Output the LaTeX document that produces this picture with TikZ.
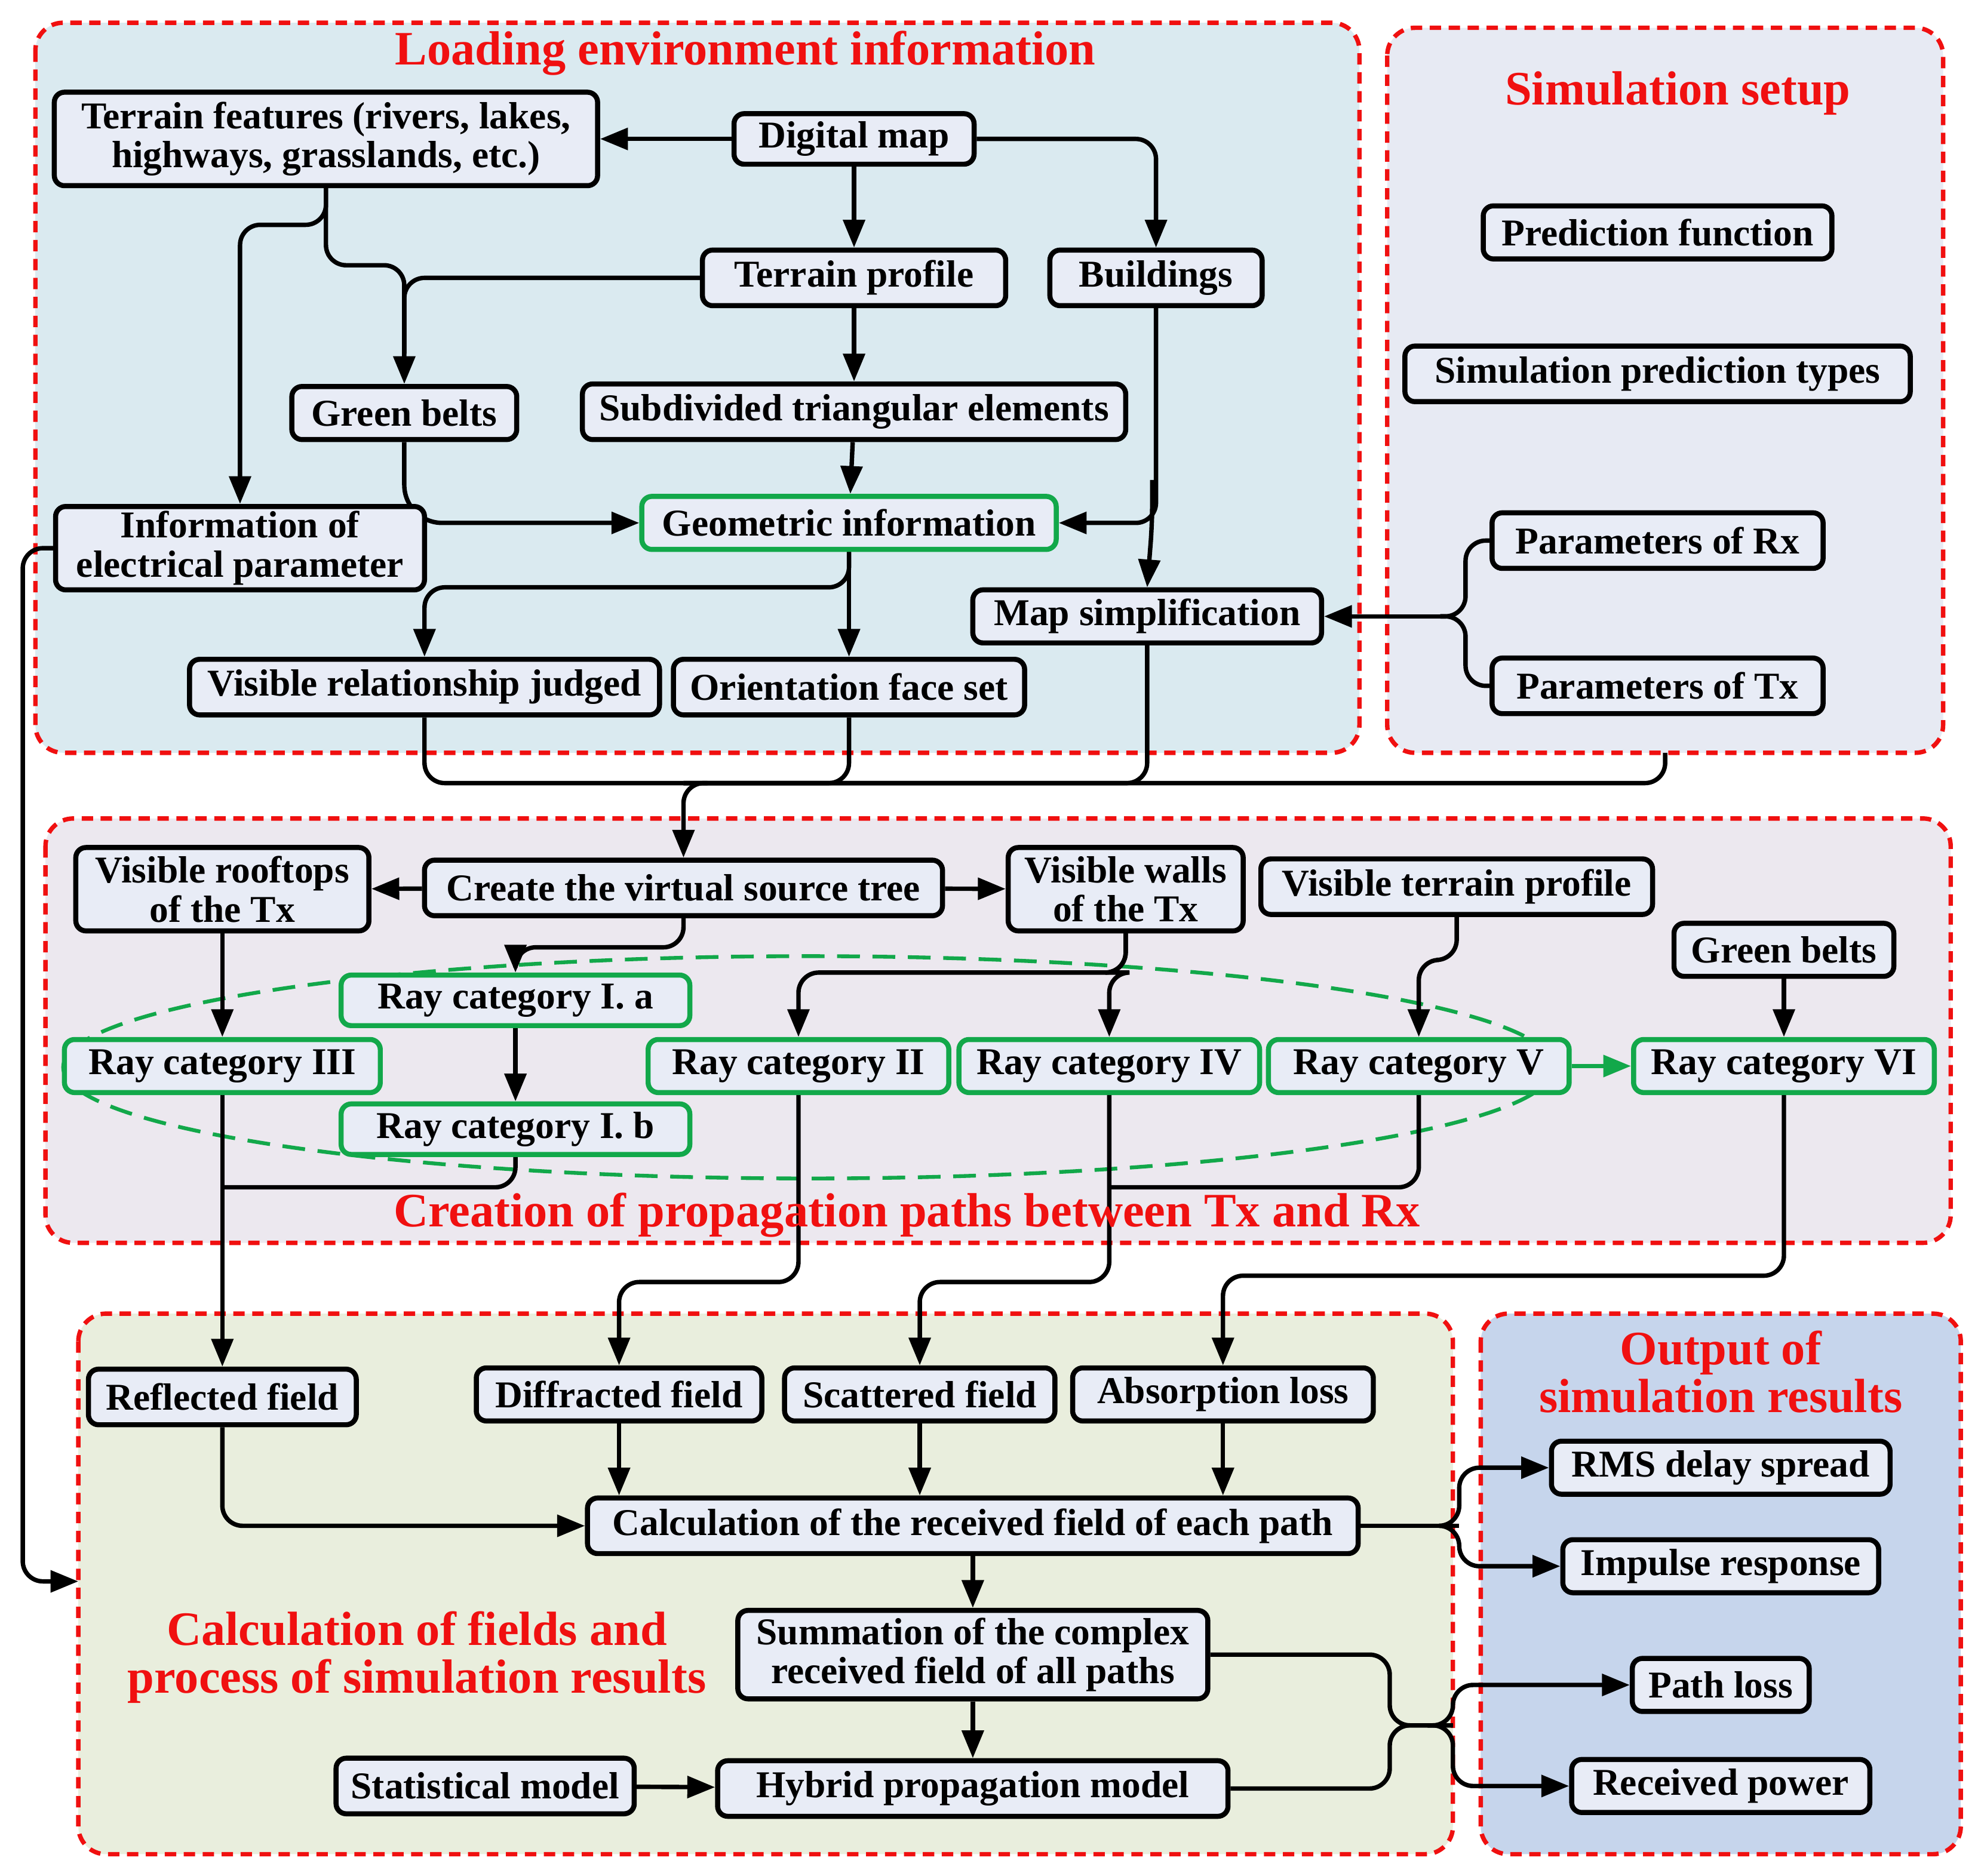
\documentclass[tikz,border=0pt]{standalone}
\usepackage{fontspec}
\setmainfont{Liberation Serif}
\usetikzlibrary{arrows.meta}
\definecolor{nfill}{HTML}{E8ECF6}
\definecolor{gbox}{HTML}{12A84A}
\definecolor{redd}{HTML}{F01010}
\definecolor{fA}{HTML}{DAEAF0}
\definecolor{fB}{HTML}{E7EAF3}
\definecolor{fC}{HTML}{ECE8EF}
\definecolor{fD}{HTML}{E9EEDD}
\definecolor{fE}{HTML}{C6D5EC}
\pgfdeclarelayer{bg}\pgfdeclarelayer{edges}
\pgfsetlayers{bg,edges,main}
\begin{document}
\begin{tikzpicture}[x=1pt,y=-1pt,
 nd/.style={draw, line width=4pt, rounded corners=8pt, fill=nfill, align=center, inner sep=0pt,
   font=\bfseries\fontsize{30}{31}\selectfont},
 gn/.style={nd, draw=gbox},
 cont/.style={draw=redd, line width=3.5pt, dash pattern=on 9pt off 6pt, rounded corners=22pt},
 ttl/.style={text=redd, font=\bfseries\fontsize{38}{38}\selectfont, align=center},
 ar/.style={line width=3.5pt, rounded corners=16pt, -{Triangle[length=22pt,width=17pt]}},
 ln/.style={line width=3.5pt, rounded corners=16pt}]
\useasboundingbox (0,0) rectangle (1568,1485);
\begin{pgfonlayer}{bg}
\fill[fA, rounded corners=22pt] (28,18) rectangle (1076,596);
\draw[cont] (28,18) rectangle (1076,596);
\fill[fB, rounded corners=22pt] (1098,22) rectangle (1538,596);
\draw[cont] (1098,22) rectangle (1538,596);
\fill[fC, rounded corners=22pt] (36,648) rectangle (1544,984);
\draw[cont] (36,648) rectangle (1544,984);
\fill[fD, rounded corners=22pt] (62,1040) rectangle (1150,1468);
\draw[cont] (62,1040) rectangle (1150,1468);
\fill[fE, rounded corners=22pt] (1172,1040) rectangle (1552,1468);
\draw[cont] (1172,1040) rectangle (1552,1468);
\draw[gbox, line width=3pt, dash pattern=on 18pt off 10pt] (640,845) ellipse (590 and 88);
\end{pgfonlayer}
\node[ttl] (t1) at (590,42) {Loading environment information};
\node[ttl] (t2) at (1328,74) {Simulation setup};
\node[ttl] (t4) at (330,1312) {Calculation of fields and\\process of simulation results};
\node[ttl] (t5) at (1362,1086) {Output of\\simulation results};
% nodes
\node[nd, minimum width=430pt, minimum height=74pt] (terrain) at (258,110) {Terrain features (rivers, lakes,\\highways, grasslands, etc.)};
\node[nd, minimum width=190pt, minimum height=40pt] (digital) at (676,110) {Digital map};
\node[nd, minimum width=240pt, minimum height=44pt] (tprofile) at (676,220) {Terrain profile};
\node[nd, minimum width=168pt, minimum height=44pt] (build) at (915,220) {Buildings};
\node[nd, minimum width=178pt, minimum height=42pt] (green1) at (320,327) {Green belts};
\node[nd, minimum width=430pt, minimum height=44pt] (subdiv) at (676,326) {Subdivided triangular elements};
\node[gn, minimum width=328pt, minimum height=42pt] (geo) at (672,414) {Geometric information};
\node[nd, minimum width=292pt, minimum height=66pt] (info) at (190,434) {Information of\\electrical parameter};
\node[nd, minimum width=276pt, minimum height=42pt] (maps) at (908,488) {Map simplification};
\node[nd, minimum width=372pt, minimum height=44pt] (visrel) at (336,544) {Visible relationship judged};
\node[nd, minimum width=278pt, minimum height=44pt] (orient) at (672,544) {Orientation face set};
\node[nd, minimum width=276pt, minimum height=42pt] (pred) at (1312,184) {Prediction function};
\node[nd, minimum width=400pt, minimum height=44pt] (simt) at (1312,296) {Simulation prediction types};
\node[nd, minimum width=262pt, minimum height=44pt] (prx) at (1312,428) {Parameters of Rx};
\node[nd, minimum width=262pt, minimum height=44pt] (ptx) at (1312,543) {Parameters of Tx};
\node[nd, minimum width=232pt, minimum height=66pt] (roof) at (176,704) {Visible rooftops\\of the Tx};
\node[nd, minimum width=410pt, minimum height=44pt] (vst) at (541,703) {Create the virtual source tree};
\node[nd, minimum width=186pt, minimum height=66pt] (walls) at (891,704) {Visible walls\\of the Tx};
\node[nd, minimum width=310pt, minimum height=44pt] (vtp) at (1153,702) {Visible terrain profile};
\node[nd, minimum width=174pt, minimum height=42pt] (green2) at (1412,752) {Green belts};
\node[gn, minimum width=276pt, minimum height=40pt] (rIa) at (408,792) {Ray category I. a};
\node[gn, minimum width=250pt, minimum height=42pt] (rIII) at (176,844) {Ray category III};
\node[gn, minimum width=276pt, minimum height=40pt] (rIb) at (408,894) {Ray category I. b};
\node[gn, minimum width=238pt, minimum height=42pt] (rII) at (632,844) {Ray category II};
\node[gn, minimum width=238pt, minimum height=42pt] (rIV) at (878,844) {Ray category IV};
\node[gn, minimum width=238pt, minimum height=42pt] (rV) at (1123,844) {Ray category V};
\node[gn, minimum width=238pt, minimum height=42pt] (rVI) at (1412,844) {Ray category VI};
\node[ttl] (t3) at (718,962) {Creation of propagation paths between Tx and Rx};
\node[nd, minimum width=212pt, minimum height=44pt] (refl) at (176,1106) {Reflected field};
\node[nd, minimum width=226pt, minimum height=42pt] (diff) at (490,1104) {Diffracted field};
\node[nd, minimum width=214pt, minimum height=42pt] (scat) at (728,1104) {Scattered field};
\node[nd, minimum width=238pt, minimum height=42pt] (abs) at (968,1104) {Absorption loss};
\node[nd, minimum width=610pt, minimum height=44pt] (calc) at (770,1208) {Calculation of the received field of each path};
\node[nd, minimum width=372pt, minimum height=70pt] (summ) at (770,1310) {Summation of the complex\\received field of all paths};
\node[nd, minimum width=236pt, minimum height=44pt] (stat) at (384,1414) {Statistical model};
\node[nd, minimum width=404pt, minimum height=44pt] (hyb) at (770,1416) {Hybrid propagation model};
\node[nd, minimum width=268pt, minimum height=42pt] (rms) at (1362,1162) {RMS delay spread};
\node[nd, minimum width=250pt, minimum height=42pt] (imp) at (1362,1240) {Impulse response};
\node[nd, minimum width=140pt, minimum height=42pt] (pl) at (1362,1334) {Path loss};
\node[nd, minimum width=236pt, minimum height=42pt] (rp) at (1362,1414) {Received power};
\coordinate (c1) at (1318,596);
\coordinate (c2) at (62,1252);
\begin{pgfonlayer}{edges}
\draw[ar] (digital) -- (terrain);
\draw[ar] (digital) -- (tprofile);
\draw[ar] (digital.east) -| (build.north);
\draw[ar] (terrain.south) -- (258,178) -| (info.north);
\draw[ar] (terrain.south) -- (258,210) -| (green1.north);
\draw[ln] (tprofile.west) -| (320,280);
\draw[ar] (tprofile) -- (subdiv);
\draw[ar] (subdiv) -- (geo);
\draw[ar, rounded corners=30pt] (green1.south) |- (geo.west);
\draw[ar] (build.south) |- (geo.east);
\draw[ar] (912,380) -- (912,414) -- (maps.north);
\draw[ar] (geo.south) -- (672,465) -| (visrel.north);
\draw[ar] (geo) -- (orient);
\draw[ln] (prx.west) -- (1160,428) |- (1140,488);
\draw[ln] (ptx.west) -- (1160,543) |- (1140,488);
\draw[ar] (1145,488) -- (maps.east);
\draw[ln] (visrel.south) |- (541,620);
\draw[ln] (orient.south) |- (541,620);
\draw[ln] (maps.south) |- (541,620);
\draw[ln] (c1) |- (541,620);
\draw[ar] (560,620) -| (vst.north);
\draw[ar] (vst) -- (roof);
\draw[ar] (vst) -- (walls);
\draw[ar] (vst.south) |- (408,750) -- (rIa.north);
\draw[ar] (rIa) -- (rIb);
\draw[ar] (roof) -- (rIII);
\draw[ar] (walls.south) |- (632,770) -- (rII.north);
\draw[ar] (891,737) -- (891,770) -| (rIV.north);
\draw[ar] (vtp.south) |- (1123,760) -- (rV.north);
\draw[ar] (green2) -- (rVI);
\draw[line width=3.5pt, draw=gbox, -{Triangle[length=22pt,width=17pt,fill=gbox]}] (rV) -- (rVI);
\draw[ar] (rIII) -- (refl);
\draw[ln] (rIb.south) |- (176,940);
\draw[ar] (rII.south) |- (490,1015) -- (diff.north);
\draw[ar] (rIV.south) |- (728,1015) -- (scat.north);
\draw[ln] (rV.south) |- (878,940);
\draw[ar] (rVI.south) |- (968,1010) -- (abs.north);
\draw[ar] (refl.south) |- (calc.west);
\draw[ar] (diff) -- (diff |- calc.north);
\draw[ar] (scat) -- (scat |- calc.north);
\draw[ar] (abs) -- (abs |- calc.north);
\draw[ar] (info.west) -- (18,434) |- (c2);
\draw[ar] (calc) -- (summ);
\draw[ar] (summ) -- (hyb);
\draw[ar] (stat) -- (hyb);
\draw[ln] (calc.east) -- (1155,1208);
\draw[ar] (1140,1208) -- (1155,1208) |- (rms.west);
\draw[ar] (1140,1208) -- (1155,1208) |- (imp.west);
\draw[ln] (summ.east) -- (1100,1310) |- (1150,1366);
\draw[ln] (hyb.east) -- (1100,1416) |- (1150,1366);
\draw[ar] (1130,1366) -- (1150,1366) |- (pl.west);
\draw[ar] (1130,1366) -- (1150,1366) |- (rp.west);
\end{pgfonlayer}
\end{tikzpicture}
\end{document}
